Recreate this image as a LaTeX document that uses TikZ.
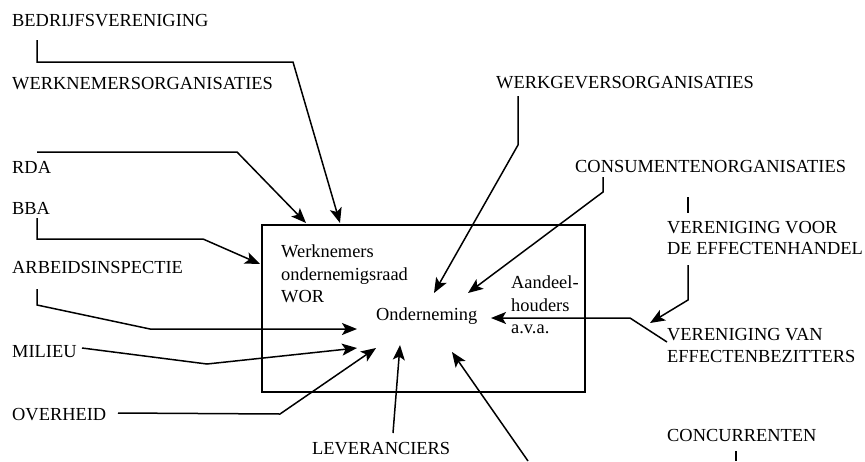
\documentclass[tikz,border=0pt]{standalone}
\usepackage{fontspec}
\setmainfont{Liberation Serif}
\usetikzlibrary{arrows.meta}
\begin{document}
\begin{tikzpicture}[x=1pt,y=-1pt,
  lbl/.style={anchor=base west,inner sep=0pt,font=\fontsize{18.4}{22}\selectfont},
  conn/.style={line width=1.5pt,line join=miter},
  arr/.style={conn,-{Stealth[length=15pt,width=12pt,inset=3.5pt]}}]
\useasboundingbox (0,0) rectangle (865,461);
% box
\node[draw,line width=1.5pt,minimum width=323pt,minimum height=167pt,inner sep=0pt] (box) at (423.5,308.5) {};
% labels
\node[lbl] (bv) at (12,26) {BEDRIJFSVERENIGING};
\node[lbl] (wno) at (12,89) {WERKNEMERSORGANISATIES};
\node[lbl] (rda) at (12,173) {RDA};
\node[lbl] (bba) at (12,214) {BBA};
\node[lbl] (ai) at (12,273) {ARBEIDSINSPECTIE};
\node[lbl] (mil) at (12,357) {MILIEU};
\node[lbl] (ovh) at (12,420) {OVERHEID};
\node[lbl] (lev) at (312,454) {LEVERANCIERS};
\node[lbl] (wgo) at (496,88) {WERKGEVERSORGANISATIES};
\node[lbl] (cons) at (575,172) {CONSUMENTENORGANISATIES};
\node[lbl] (vve1) at (667,233) {VERENIGING VOOR};
\node[lbl] (vve2) at (667,254) {DE EFFECTENHANDEL};
\node[lbl] (vvb1) at (667,340) {VERENIGING VAN};
\node[lbl] (vvb2) at (667,362) {EFFECTENBEZITTERS};
\node[lbl] (conc) at (667,441) {CONCURRENTEN};
\node[lbl] (wn1) at (281,257) {Werknemers};
\node[lbl] (wn2) at (281,280) {ondernemigsraad};
\node[lbl] (wn3) at (281,302) {WOR};
\node[lbl] (ond) at (376,320) {Onderneming};
\node[lbl] (ah1) at (511,288) {Aandeel-};
\node[lbl] (ah2) at (511,311) {houders};
\node[lbl] (ah3) at (511,333) {a.v.a.};
% connector end points
\coordinate (bvS) at (37,40);   \coordinate (bvT) at (340,223);
\coordinate (rdaS) at (37,152); \coordinate (rdaT) at (306,223);
\coordinate (bbaS) at (37,218); \coordinate (bbaT) at (260,264);
\coordinate (aiS) at (37,289);  \coordinate (aiT) at (357,329);
\coordinate (milS) at (82,348); \coordinate (milT) at (357,348);
\coordinate (ovhS) at (118,413);\coordinate (ovhT) at (376,348);
\coordinate (levS) at (393,433);\coordinate (levT) at (400,345);
\coordinate (botS) at (528,461);\coordinate (botT) at (452,352);
\coordinate (wgoS) at (518,96); \coordinate (wgoT) at (434,293);
\coordinate (consS) at (603,177);\coordinate (consT) at (468,293);
\coordinate (vveA) at (688,197); \coordinate (vveB) at (688,213);
\coordinate (vveS) at (688,265); \coordinate (vveT) at (650,323);
\coordinate (vvbS) at (667,342); \coordinate (vvbT) at (491,318);
\coordinate (concA) at (736,451);\coordinate (concB) at (736,461);
% connectors
\draw[arr] (bvS) -- (37,62) -- (293,62) -- (bvT);
\draw[arr] (rdaS) -- (237,152) -- (rdaT);
\draw[arr] (bbaS) -- (37,239) -- (203,239) -- (bbaT);
\draw[arr] (aiS) -- (37,305) -- (150,329) -- (aiT);
\draw[arr] (milS) -- (207,364) -- (milT);
\draw[arr] (ovhS) -- (280,414) -- (ovhT);
\draw[arr] (levS) -- (levT);
\draw[arr] (botS) -- (botT);
\draw[arr] (wgoS) -- (518,145) -- (wgoT);
\draw[arr] (consS) -- (603,192) -- (consT);
\draw[conn] (vveA) -- (vveB);
\draw[arr] (vveS) -- (688,300) -- (vveT);
\draw[arr] (vvbS) -- (630,318) -- (vvbT);
\draw[conn] (concA) -- (concB);
\end{tikzpicture}
\end{document}
